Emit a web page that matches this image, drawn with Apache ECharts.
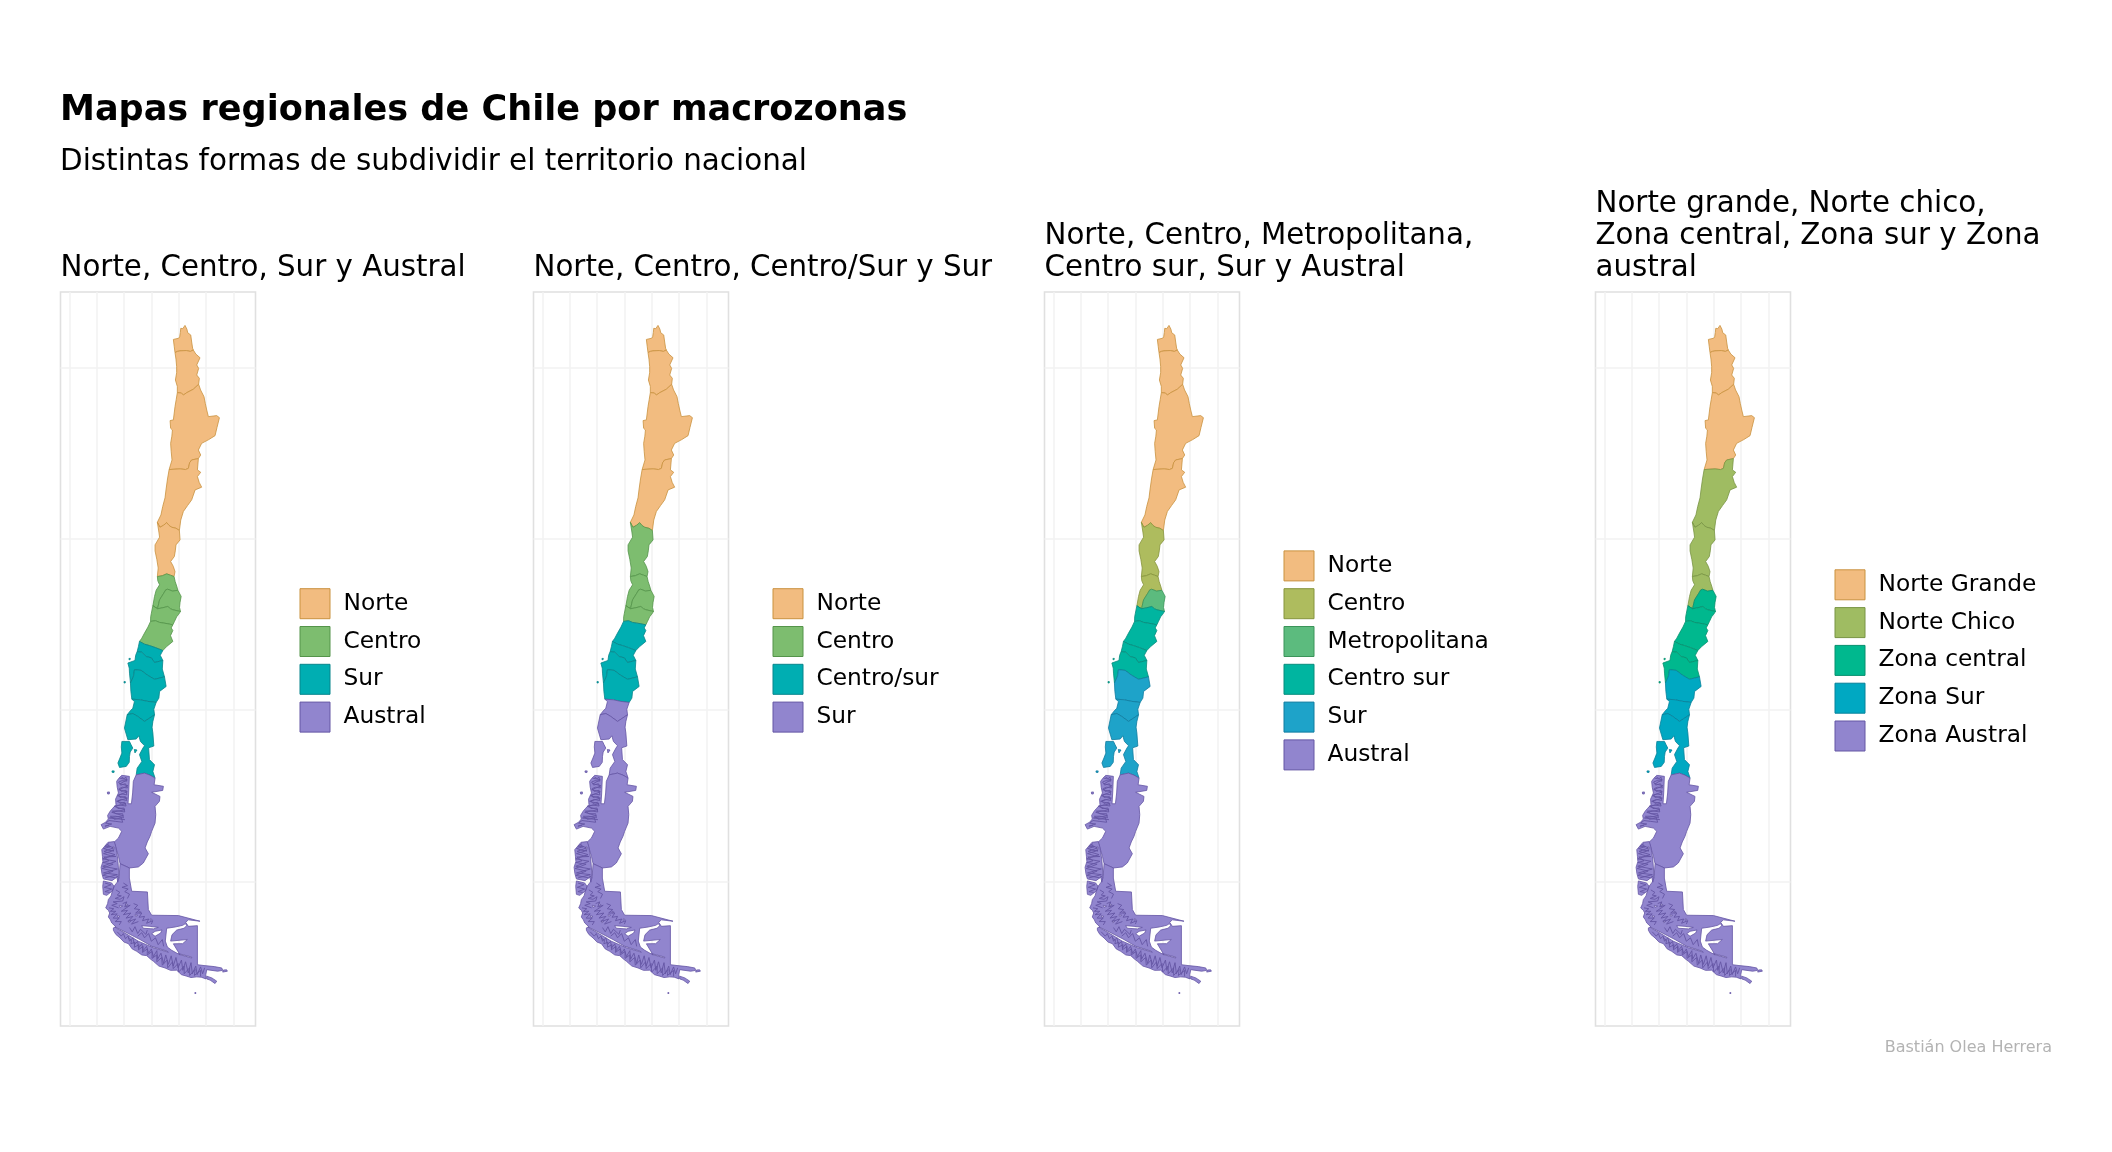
<!DOCTYPE html>
<html><head><meta charset="utf-8">
<style>html,body{margin:0;padding:0;background:#fff}#c{width:2112px;height:1152px}</style>
<script src="https://cdn.jsdelivr.net/npm/echarts@6/dist/echarts.min.js"></script>
</head><body><div id="c"></div>
<script>
// Region boundaries, as [lon, lat]
const c0=[[-69.85,-17.70],[-69.7,-17.72],[-69.54,-17.53]];
const c1=[[-70.27,-19.12],[-70.1,-19.05],[-69.9,-19.02],[-69.45,-19.0],[-69.15,-19.05],[-68.93,-18.97]];
const c2=[[-70.10,-21.46],[-69.8,-21.48],[-69.66,-21.6],[-69.41,-21.46],[-68.93,-21.26],[-68.54,-20.97]];
const c3=[[-70.70,-25.95],[-69.9,-25.91],[-69.5,-25.95],[-69.29,-25.88],[-69.2,-25.55],[-69.05,-25.39],[-68.56,-25.31]];
const c4=[[-71.56,-29.03],[-71.37,-29.32],[-71.1,-29.2],[-70.88,-29.05],[-70.7,-29.22],[-70.51,-29.32],[-70.2,-29.38],[-69.95,-29.51]];
const c5=[[-71.56,-32.2],[-71.2,-32.15],[-70.88,-32.04],[-70.6,-32.12],[-70.34,-32.2]];
const c6=[[-71.89,-33.91],[-71.55,-34.08],[-71.40,-33.56],[-71.09,-33.17],[-70.95,-32.98],[-70.8,-32.94],[-70.45,-33.05],[-70.06,-33.0]];
const c7=[[-71.89,-33.91],[-71.55,-34.08],[-71.2,-34.03],[-70.8,-33.95],[-70.6,-34.08],[-70.43,-34.14],[-69.87,-34.24]];
const c8=[[-72.06,-34.82],[-71.7,-34.78],[-71.4,-34.88],[-70.85,-34.95],[-70.43,-35.02]];
const c9=[[-72.87,-35.99],[-72.5,-36.15],[-72.14,-36.23],[-71.7,-36.35],[-71.16,-36.52]];
const c10=[[-73.04,-36.58],[-72.7,-36.62],[-72.38,-36.87],[-72.0,-36.95],[-71.77,-37.22],[-71.16,-37.1]];
const c11=[[-73.53,-38.42],[-73.3,-38.0],[-73.24,-37.64],[-72.75,-37.68],[-72.3,-37.95],[-71.77,-38.2],[-71.04,-38.06]];
const c12=[[-73.43,-39.36],[-72.8,-39.4],[-72.26,-39.49],[-71.65,-39.55]];
const c13=[[-73.77,-40.27],[-73.35,-40.2],[-73.0,-40.37],[-72.5,-40.66],[-72.1,-40.45],[-71.77,-40.27]];
const c14=[[-73.11,-43.78],[-72.5,-43.68],[-72.1,-43.8],[-71.73,-43.97]];
const c15=[[-74.29,-48.97],[-73.61,-49.22]];

const eastArica=[[-69.4,-17.75],[-69.34,-17.96],[-69.12,-18.09],[-69.05,-18.5],[-68.98,-18.87]];
const westArica=[[-70.33,-18.75],[-70.39,-18.35],[-70.0,-18.28],[-69.93,-18.2],[-69.88,-17.95]];
const eastTarapaca=[[-68.75,-19.2],[-68.44,-19.42],[-68.68,-19.84],[-68.54,-20.04],[-68.68,-20.43],[-68.49,-20.62]];
const westTarapaca=[[-70.1,-21.1],[-70.24,-20.72],[-70.15,-20.3],[-70.15,-19.94],[-70.2,-19.5]];
const eastAntofagasta=[[-68.4,-21.3],[-68.15,-21.69],[-68.05,-22.1],[-67.95,-22.47],[-67.83,-22.86],[-67.22,-22.8],[-67.02,-22.92],[-67.2,-23.5],[-67.34,-23.97],[-67.8,-24.2],[-68.32,-24.42],[-68.56,-24.81],[-68.39,-25.1]];
const westAntofagasta=[[-70.49,-25.39],[-70.55,-24.9],[-70.59,-24.42],[-70.5,-24.0],[-70.46,-23.64],[-70.59,-23.54],[-70.63,-23.09],[-70.39,-23.05],[-70.27,-22.28],[-70.18,-21.85]];
const eastAtacama=[[-68.63,-25.97],[-68.39,-26.11],[-68.63,-26.36],[-68.5,-26.7],[-68.32,-26.98],[-68.8,-27.14],[-69.05,-27.72],[-69.35,-28.05],[-69.66,-28.4],[-69.85,-28.9]];
const westAtacama=[[-71.3,-28.6],[-71.17,-28.11],[-71.0,-27.6],[-70.93,-27.14],[-70.82,-26.5]];
const eastCoquimbo=[[-69.90,-30.06],[-70.2,-30.35],[-70.25,-30.7],[-70.32,-31.03],[-70.59,-31.32],[-70.4,-31.6],[-70.27,-31.91]];
const westCoquimbo=[[-71.5,-31.7],[-71.6,-31.2],[-71.73,-30.7],[-71.73,-30.35],[-71.4,-29.9],[-71.45,-29.6]];
const eastValparaiso=[[-70.26,-32.49],[-70.15,-32.75]];
const westValparaiso=[[-71.77,-33.36],[-71.65,-33.0],[-71.4,-32.68],[-71.53,-32.45]];
const eastMetropolitana=[[-69.82,-33.36],[-69.9,-33.7],[-69.94,-34.0]];
const eastOhiggins=[[-70.0,-34.4],[-70.15,-34.55],[-70.31,-34.82]];
const westOhiggins=[[-72.05,-34.55],[-72.0,-34.34]];
const eastMaule=[[-70.55,-35.2],[-70.43,-35.35],[-70.6,-35.65],[-70.43,-35.99],[-70.9,-36.3]];
const westMaule=[[-72.7,-35.8],[-72.5,-35.5],[-72.25,-35.15]];
const eastNuble=[[-71.35,-36.8]];
const westNuble=[[-72.95,-36.3]];
const eastBiobio=[[-71.2,-37.6]];
const westBiobio=[[-73.6,-37.84],[-73.62,-37.55],[-73.72,-37.25],[-73.2,-37.1],[-73.15,-36.8]];
const eastAraucania=[[-70.92,-38.62],[-71.4,-38.91],[-71.45,-39.3]];
const westAraucania=[[-73.5,-38.9]];
const eastLosRios=[[-71.82,-39.95]];
const westLosRios=[[-73.55,-40.05],[-73.36,-39.89],[-73.24,-39.5]];
const eastLosLagos=[[-71.89,-40.66],[-71.95,-41.0],[-71.89,-41.34],[-71.82,-42.1],[-72.2,-42.2],[-72.14,-42.89],[-71.77,-43.19],[-71.89,-43.58]];
const westLosLagos=[[-73.04,-43.39],[-72.7,-43.0],[-72.87,-42.6],[-72.62,-42.22],[-72.5,-42.08],[-72.8,-41.83],[-72.92,-41.5],[-73.11,-41.69],[-73.72,-41.73],[-73.97,-41.05]];
const eastAysen=[[-71.8,-44.36],[-71.12,-44.45],[-71.17,-44.69],[-71.98,-44.8],[-71.37,-45.04],[-71.41,-45.33],[-71.73,-45.62],[-71.68,-46.1],[-71.73,-46.6],[-71.98,-47.08],[-72.1,-47.37],[-72.3,-47.7],[-72.46,-48.05],[-72.22,-48.39],[-72.59,-48.93],[-72.95,-49.16]];
const westAysen=[[-74.41,-48.54],[-74.59,-48.05],[-74.73,-47.72],[-74.41,-47.47],[-74.17,-47.08],[-74.41,-46.89],[-75.02,-46.79],[-75.51,-46.95],[-75.68,-46.69],[-75.35,-46.55],[-75.15,-46.36],[-75.2,-46.15],[-75.02,-45.91],[-74.85,-45.75],[-74.59,-45.53],[-74.62,-45.2],[-74.41,-44.84],[-74.5,-44.5],[-74.54,-44.16],[-74.4,-44.0],[-74.17,-43.81],[-73.61,-43.87],[-73.66,-44.84],[-73.71,-45.47],[-73.46,-45.47],[-73.37,-44.84],[-73.32,-44.16]];
const magallanesOuter=[[-73.61,-49.22],[-73.61,-49.81],[-73.44,-50.58],[-72.29,-50.62],[-72.22,-51.65],[-71.98,-51.98],[-70.02,-52.0],[-68.44,-52.33],[-69.29,-52.25],[-69.49,-52.39],[-69.29,-52.63],[-68.63,-52.59],[-68.63,-54.87],[-68.15,-54.92],[-67.4,-54.98],[-66.85,-55.06],[-66.78,-55.2],[-67.15,-55.25],[-67.95,-55.16],[-68.02,-55.45],[-68.0,-55.7],[-68.35,-55.6],[-68.68,-55.58],[-69.1,-55.62],[-69.41,-55.54],[-69.8,-55.45],[-70.15,-55.19],[-70.6,-55.2],[-71.0,-55.06],[-71.45,-54.95],[-71.85,-54.67],[-72.05,-54.55],[-72.34,-54.34],[-72.7,-54.3],[-73.07,-54.09],[-73.4,-53.95],[-73.68,-53.64],[-74.0,-53.55],[-74.29,-53.31],[-74.6,-53.1],[-74.78,-52.86],[-74.78,-52.72],[-74.59,-52.66],[-74.9,-52.43],[-75.0,-52.25],[-75.15,-52.08],[-75.05,-51.85],[-75.15,-51.69],[-75.34,-51.56],[-75.2,-51.3],[-75.15,-51.07],[-74.95,-50.85],[-74.83,-50.49],[-74.73,-50.29],[-74.5,-50.05],[-74.37,-49.81],[-74.29,-48.97]];

const chiloe=[[-74.16,-41.83],[-73.6,-41.83],[-73.5,-42.0],[-73.36,-42.22],[-73.55,-42.45],[-73.6,-42.7],[-73.62,-43.05],[-73.84,-43.29],[-74.33,-43.35],[-74.45,-43.09],[-74.3,-42.8],[-74.16,-42.51],[-74.2,-42.15]];
const chauques=[[-73.25,-42.3],[-73.05,-42.33],[-73.2,-42.5]];
const guafo=[[-74.88,-43.55],[-74.72,-43.55],[-74.74,-43.65],[-74.88,-43.63]];
const santaMaria=[[-73.64,-36.98],[-73.54,-36.98],[-73.56,-37.06],[-73.64,-37.05]];
const mocha=[[-74.0,-38.33],[-73.9,-38.34],[-73.92,-38.42],[-74.0,-38.41]];
const islaHuamblin=[[-75.22,-44.79],[-75.07,-44.78],[-75.08,-44.9],[-75.2,-44.9]];
const wellington=[[-75.17,-47.72],[-74.71,-47.68],[-74.61,-47.96],[-74.46,-48.7],[-74.37,-49.66],[-74.88,-49.96],[-75.51,-49.86],[-75.62,-49.55],[-75.68,-49.18],[-75.55,-48.85],[-75.58,-48.54],[-75.63,-48.15]];
const madreDeDios=[[-75.51,-49.98],[-74.9,-50.1],[-74.73,-50.3],[-74.83,-50.55],[-75.27,-50.82],[-75.51,-50.76],[-75.56,-50.29]];
const picton=[[-66.73,-55.18],[-66.49,-55.17],[-66.44,-55.25],[-66.78,-55.3]];
const wollaston=[[-67.95,-55.54],[-67.58,-55.64],[-67.22,-55.83],[-67.34,-55.97],[-67.7,-55.77],[-67.95,-55.7]];
const diegoRamirez=[[-68.82,-56.5],[-68.74,-56.5],[-68.74,-56.55],[-68.82,-56.55]];

const senoSkyring=[[-72.71,-52.59],[-72.1,-52.63],[-71.49,-52.69],[-71.85,-52.78],[-72.59,-52.74]];
const senoOtway=[[-71.98,-53.06],[-71.73,-52.92],[-71.22,-52.84],[-71.32,-53.02],[-71.73,-53.21]];
const estrechoEste=[[-70.88,-52.74],[-70.27,-52.67],[-69.71,-52.57],[-69.51,-52.47],[-69.41,-52.59],[-69.61,-52.74],[-70.15,-52.85],[-70.49,-53.12],[-70.59,-53.49],[-69.37,-53.4],[-69.71,-53.64],[-70.39,-53.65],[-69.9,-54.3],[-70.51,-54.03],[-70.83,-53.84],[-70.98,-53.49]];
const estrechoOeste=[[-74.66,-52.66],[-73.93,-52.95],[-72.83,-53.4],[-71.98,-53.79],[-70.88,-54.07],[-70.76,-54.14],[-71.85,-53.88],[-72.95,-53.5],[-73.85,-53.06],[-74.59,-52.72]];
const almirantazgo=[[-70.02,-54.22],[-69.05,-54.42],[-69.05,-54.48],[-69.95,-54.27]];
const canalitos=[
 [[-74.35,-51.4],[-74.1,-51.45],[-74.3,-51.52]],
 [[-73.9,-51.3],[-73.7,-51.38],[-73.88,-51.42]],
 [[-73.2,-51.95],[-73.0,-51.98],[-73.15,-52.05]],
 [[-72.9,-51.75],[-72.75,-51.8],[-72.88,-51.85]],
 [[-72.1,-52.2],[-71.95,-52.22],[-72.05,-52.3]],
 [[-74.5,-52.0],[-74.3,-52.05],[-74.45,-52.12]],
 [[-73.7,-52.3],[-73.5,-52.33],[-73.65,-52.42]],
 [[-74.82,-47.98],[-74.78,-48.25],[-74.72,-48.0]],
 [[-74.55,-49.7],[-74.45,-50.05],[-74.4,-49.72]]
];

const canalesAysen=[
 [[-74.34,-43.97],[-73.76,-44.07],[-74.29,-44.3],[-73.71,-44.42],[-74.39,-44.65],[-73.76,-44.77],[-74.49,-45.0],[-73.76,-45.14],[-74.54,-45.33],[-73.85,-45.47],[-74.73,-45.62],[-73.93,-45.82],[-74.9,-45.97],[-74.05,-46.17],[-75.07,-46.3],[-73.93,-46.4]],
 [[-74.2,-43.9],[-74.0,-44.0],[-73.85,-43.92],[-73.8,-44.15],[-74.15,-44.12],[-74.4,-44.2],[-74.25,-44.38],[-73.9,-44.3],[-73.75,-44.55],[-74.1,-44.5],[-74.35,-44.58],[-74.2,-44.75],[-73.85,-44.68],[-73.8,-44.95],[-74.15,-44.9],[-74.4,-44.95],[-74.3,-45.1],[-73.9,-45.05],[-73.8,-45.28],[-74.2,-45.22],[-74.45,-45.3],[-74.3,-45.45],[-73.95,-45.38],[-73.85,-45.6],[-74.3,-45.55],[-74.6,-45.6],[-74.45,-45.75],[-74.0,-45.72],[-73.95,-45.95],[-74.5,-45.88],[-74.85,-45.9],[-74.6,-46.05],[-74.1,-46.05],[-74.05,-46.3],[-74.6,-46.2],[-75.0,-46.2],[-74.7,-46.38],[-74.2,-46.3],[-74.1,-46.55],[-74.6,-46.5],[-75.1,-46.45],[-75.35,-46.6],[-74.9,-46.65],[-75.4,-46.78],[-75.1,-46.72]]
];
const canalesMagallanes=[
 [[-75.27,-47.86],[-74.78,-48.05],[-75.46,-48.25],[-74.66,-48.44],[-75.56,-48.69],[-74.59,-48.83],[-75.56,-49.12],[-74.49,-49.28],[-75.51,-49.51],[-74.49,-49.61],[-75.4,-49.8]],
 [[-75.1,-47.8],[-75.4,-47.95],[-75.0,-47.98],[-75.5,-48.08],[-75.05,-48.2],[-74.75,-48.2],[-75.5,-48.38],[-75.0,-48.5],[-74.6,-48.55],[-75.48,-48.58],[-75.1,-48.8],[-75.55,-48.9],[-74.8,-49.0],[-75.6,-49.25],[-74.8,-49.4],[-75.55,-49.65],[-74.6,-49.8]],
 [[-75.4,-50.1],[-74.95,-50.2],[-75.45,-50.35],[-74.9,-50.45],[-75.4,-50.6],[-75.05,-50.65]],
 [[-74.6,-50.5],[-74.3,-50.65],[-74.5,-50.8],[-74.2,-50.85],[-74.65,-51.0],[-74.3,-51.05],[-74.0,-50.9],[-74.1,-51.15],[-74.8,-51.2],[-74.5,-51.3],[-74.9,-51.4],[-74.4,-51.55]],
 [[-75.1,-51.55],[-74.75,-51.6],[-75.0,-51.75],[-74.6,-51.75],[-74.95,-51.95],[-74.5,-51.9],[-74.8,-52.15],[-74.35,-52.15],[-74.65,-52.35],[-74.2,-52.35],[-74.35,-52.55]],
 [[-74.1,-51.3],[-73.8,-51.2],[-73.95,-51.5],[-73.55,-51.4],[-74.2,-51.75],[-73.75,-51.7],[-74.05,-51.95],[-73.5,-51.85],[-73.85,-52.15],[-73.35,-52.05],[-73.7,-52.35],[-73.15,-52.2],[-73.45,-52.5],[-72.95,-52.35]],
 [[-73.3,-51.3],[-73.0,-51.4],[-73.25,-51.6],[-72.85,-51.65],[-73.15,-51.85],[-72.7,-51.85],[-72.9,-52.1],[-72.5,-52.05],[-72.65,-52.3],[-72.2,-52.2],[-72.35,-52.45],[-71.9,-52.3],[-72.0,-52.5]],
 [[-74.05,-50.1],[-73.75,-50.25],[-74.15,-50.35],[-73.7,-50.45],[-73.95,-50.6],[-73.6,-50.75],[-73.75,-51.0]],
 [[-74.5,-52.95],[-74.2,-53.2],[-74.05,-53.05],[-73.9,-53.35],[-73.7,-53.2],[-73.6,-53.5],[-73.35,-53.3],[-73.25,-53.7],[-73.0,-53.5],[-72.95,-53.9],[-72.7,-53.65],[-72.6,-54.05],[-72.35,-53.8],[-72.2,-54.2],[-72.0,-53.95],[-71.85,-54.4],[-71.6,-54.05],[-71.55,-54.55],[-71.3,-54.2],[-71.1,-54.8],[-70.95,-54.3],[-70.75,-54.85],[-70.55,-54.35],[-70.4,-54.95],[-70.2,-54.45],[-70.05,-55.05],[-69.8,-54.6],[-69.7,-55.2],[-69.5,-54.7],[-69.3,-55.35],[-69.1,-54.75],[-69.0,-55.4],[-68.75,-54.95],[-68.65,-55.45],[-68.4,-55.0],[-68.25,-55.4],[-68.1,-55.05]],
 [[-73.7,-53.3],[-73.45,-53.45],[-73.5,-53.65],[-73.2,-53.55],[-73.25,-53.85],[-72.9,-53.7],[-72.95,-54.0],[-72.6,-53.8],[-72.65,-54.15],[-72.3,-53.95],[-72.3,-54.3],[-71.95,-54.1],[-71.95,-54.5],[-71.6,-54.3],[-71.6,-54.7],[-71.25,-54.45],[-71.2,-54.9],[-70.85,-54.6],[-70.8,-55.05],[-70.45,-54.7],[-70.4,-55.1],[-70.05,-54.8],[-70.0,-55.3],[-69.6,-54.95],[-69.6,-55.4],[-69.2,-55.05],[-69.2,-55.5],[-68.8,-55.15],[-68.85,-55.5],[-68.4,-55.2],[-68.4,-55.55]],
 [[-73.0,-53.2],[-72.7,-53.0],[-72.5,-53.3],[-72.2,-53.05],[-72.0,-53.5],[-71.7,-53.3],[-71.5,-53.7],[-71.2,-53.4],[-71.1,-53.8]],
 [[-73.6,-52.7],[-73.4,-52.95],[-73.2,-52.65],[-73.0,-53.05],[-72.8,-52.8],[-72.4,-53.1],[-72.3,-52.85]]
];

const ring=(a,e,b,w)=>[...a,...e,...[...b].reverse(),...w];
const regiones={
 Arica:{rings:[ring(c0,eastArica,c1,westArica)]},
 Tarapaca:{rings:[ring(c1,eastTarapaca,c2,westTarapaca)]},
 Antofagasta:{rings:[ring(c2,eastAntofagasta,c3,westAntofagasta)]},
 Atacama:{rings:[ring(c3,eastAtacama,c4,westAtacama)]},
 Coquimbo:{rings:[ring(c4,eastCoquimbo,c5,westCoquimbo)]},
 Valparaiso:{rings:[ring(c5,eastValparaiso,c6,westValparaiso)]},
 Metropolitana:{rings:[ring(c6,eastMetropolitana,c7,[])]},
 Ohiggins:{rings:[ring(c7,eastOhiggins,c8,westOhiggins)]},
 Maule:{rings:[ring(c8,eastMaule,c9,westMaule)]},
 Nuble:{rings:[ring(c9,eastNuble,c10,westNuble)]},
 Biobio:{rings:[ring(c10,eastBiobio,c11,westBiobio),santaMaria,mocha]},
 Araucania:{rings:[ring(c11,eastAraucania,c12,westAraucania)]},
 LosRios:{rings:[ring(c12,eastLosRios,c13,westLosRios)]},
 LosLagos:{rings:[ring(c13,eastLosLagos,c14,westLosLagos),chiloe,chauques,guafo]},
 Aysen:{rings:[ring(c14,eastAysen,c15,westAysen),islaHuamblin],lines:canalesAysen},
 Magallanes:{rings:[magallanesOuter,wellington,madreDeDios,picton,wollaston,diegoRamirez],
   holes:[senoSkyring,senoOtway,estrechoEste,estrechoOeste,almirantazgo,...canalitos],lines:canalesMagallanes}
};

const titulo='Mapas regionales de Chile por macrozonas';
const subtitulo='Distintas formas de subdividir el territorio nacional';
const autor='Bastián Olea Herrera';
const lonTicks=[-78,-76,-74,-72,-70,-68,-66];
const latTicks=[-50,-40,-30,-20];
const tituloPaneles=[
 'Norte, Centro, Sur y Austral',
 'Norte, Centro, Centro/Sur y Sur',
 'Norte, Centro, Metropolitana,\nCentro sur, Sur y Austral',
 'Norte grande, Norte chico,\nZona central, Zona sur y Zona\naustral'];
const N=['Arica','Tarapaca','Antofagasta','Atacama'];
const paneles=[
 [['Norte','#F2BC80','#C9923F',[...N,'Coquimbo']],
  ['Centro','#7DBD6F','#54944A',['Valparaiso','Metropolitana','Ohiggins','Maule']],
  ['Sur','#00AEB2','#07858C',['Nuble','Biobio','Araucania','LosRios','LosLagos']],
  ['Austral','#9185CE','#6456A4',['Aysen','Magallanes']]],
 [['Norte','#F2BC80','#C9923F',N],
  ['Centro','#7DBD6F','#54944A',['Coquimbo','Valparaiso','Metropolitana','Ohiggins']],
  ['Centro/sur','#00AEB2','#07858C',['Maule','Nuble','Biobio','Araucania']],
  ['Sur','#9185CE','#6456A4',['LosRios','LosLagos','Aysen','Magallanes']]],
 [['Norte','#F2BC80','#C9923F',N],
  ['Centro','#AEBC5E','#86943C',['Coquimbo','Valparaiso']],
  ['Metropolitana','#5CBB7E','#3B945A',['Metropolitana']],
  ['Centro sur','#00B5A0','#078C7C',['Ohiggins','Maule','Nuble','Biobio']],
  ['Sur','#1EA3C9','#107CA0',['Araucania','LosRios','LosLagos']],
  ['Austral','#9185CE','#6456A4',['Aysen','Magallanes']]],
 [['Norte Grande','#F2BC80','#C9923F',['Arica','Tarapaca','Antofagasta']],
  ['Norte Chico','#9FBC62','#789444',['Atacama','Coquimbo','Valparaiso']],
  ['Zona central','#00B88E','#07906E',['Metropolitana','Ohiggins','Maule','Nuble','Biobio']],
  ['Zona Sur','#00A8C2','#07829A',['Araucania','LosRios','LosLagos']],
  ['Zona Austral','#9185CE','#6456A4',['Aysen','Magallanes']]]
];
const panelLeft=[60.5,533.5,1044.5,1595.5];
const PW=195,PT=292,PH=734,FF='"DejaVu Sans"';

function subpath(api,pts,cw){
  const q=pts.map(p=>api.coord(p));
  let a=0;q.forEach((p,i)=>{const r=q[(i+1)%q.length];a+=p[0]*r[1]-r[0]*p[1];});
  if((a>0)!==cw)q.reverse();
  return q.map((p,i)=>(i?'L':'M')+p[0].toFixed(2)+' '+p[1].toFixed(2)).join(' ')+' Z ';
}
function renderer(fill,stroke,names){
  return function(params,api){
    const r=regiones[names[api.value(0)]];
    let d='';
    r.rings.forEach(x=>d+=subpath(api,x,true));
    (r.holes||[]).forEach(x=>d+=subpath(api,x,false));
    const ch=[{type:'path',shape:{pathData:d},style:{fill:fill,stroke:stroke,lineWidth:0.8}}];
    if(r.lines){
      const l=r.lines.map(x=>x.map(p=>api.coord(p)).map((p,i)=>(i?'L':'M')+p[0].toFixed(2)+' '+p[1].toFixed(2)).join(' ')).join(' ');
      ch.push({type:'path',shape:{pathData:l},style:{fill:'none',stroke:stroke,lineWidth:0.9}});
    }
    return {type:'group',children:ch};
  };
}
const grid=[],xAxis=[],yAxis=[],series=[],legend=[];
const title=[
 {text:titulo,left:60,top:93,padding:0,textStyle:{fontFamily:FF,fontWeight:'bold',fontSize:35.1,color:'#000'}},
 {text:subtitulo,left:60,top:148,padding:0,textStyle:{fontFamily:FF,fontWeight:'normal',fontSize:29.4,color:'#000'}},
 {text:autor,right:60,top:1040,padding:0,textStyle:{fontFamily:FF,fontWeight:'normal',fontSize:16,color:'#b3b3b3'}}
];
const splitL={show:true,lineStyle:{color:'#f2f2f2',width:1.5}};
paneles.forEach((grupos,i)=>{
  const L=panelLeft[i];
  grid.push({left:L,top:PT,width:PW,height:PH,show:true,borderColor:'#e0e0e0',borderWidth:1.6,backgroundColor:'transparent',containLabel:false});
  xAxis.push({type:'value',gridIndex:i,min:-78.65,max:-64.38,axisLine:{show:false},axisLabel:{show:false},
    axisTick:{show:false,customValues:lonTicks},splitLine:splitL});
  yAxis.push({type:'value',gridIndex:i,min:-58.45,max:-15.58,axisLine:{show:false},axisLabel:{show:false},
    axisTick:{show:false,customValues:latTicks},splitLine:splitL});
  const lines=tituloPaneles[i].split('\n').length;
  title.push({text:tituloPaneles[i],left:L,top:252.5-32*(lines-1),padding:0,
    textStyle:{fontFamily:FF,fontWeight:'normal',fontSize:29.3,lineHeight:32,color:'#000'}});
  grupos.forEach(g=>{
    series.push({type:'custom',name:g[0],xAxisIndex:i,yAxisIndex:i,coordinateSystem:'cartesian2d',clip:false,silent:true,
      renderItem:renderer(g[1],g[2],g[3]),
      itemStyle:{color:g[1]},
      data:g[3].map((n,k)=>({name:n,value:[k]})),encode:{x:[],y:[]}});
  });
  legend.push({orient:'vertical',left:L+PW+44,top:659-(grupos.length*37.8)/2+4.8,padding:0,itemWidth:30,itemHeight:30,itemGap:6.8,
    selectedMode:false,icon:'rect',
    textStyle:{fontFamily:FF,fontSize:23.3,color:'#000',padding:[0,0,0,8.5]},
    data:grupos.map(g=>({name:g[0],icon:'rect',itemStyle:{color:g[1],borderColor:g[2],borderWidth:1,opacity:1}}))});
});
const chart=echarts.init(document.getElementById('c'),null,{renderer:'canvas',width:2112,height:1152});
chart.setOption({animation:false,backgroundColor:'#fff',title,grid,xAxis,yAxis,legend,series,tooltip:{show:false}});
</script></body></html>
